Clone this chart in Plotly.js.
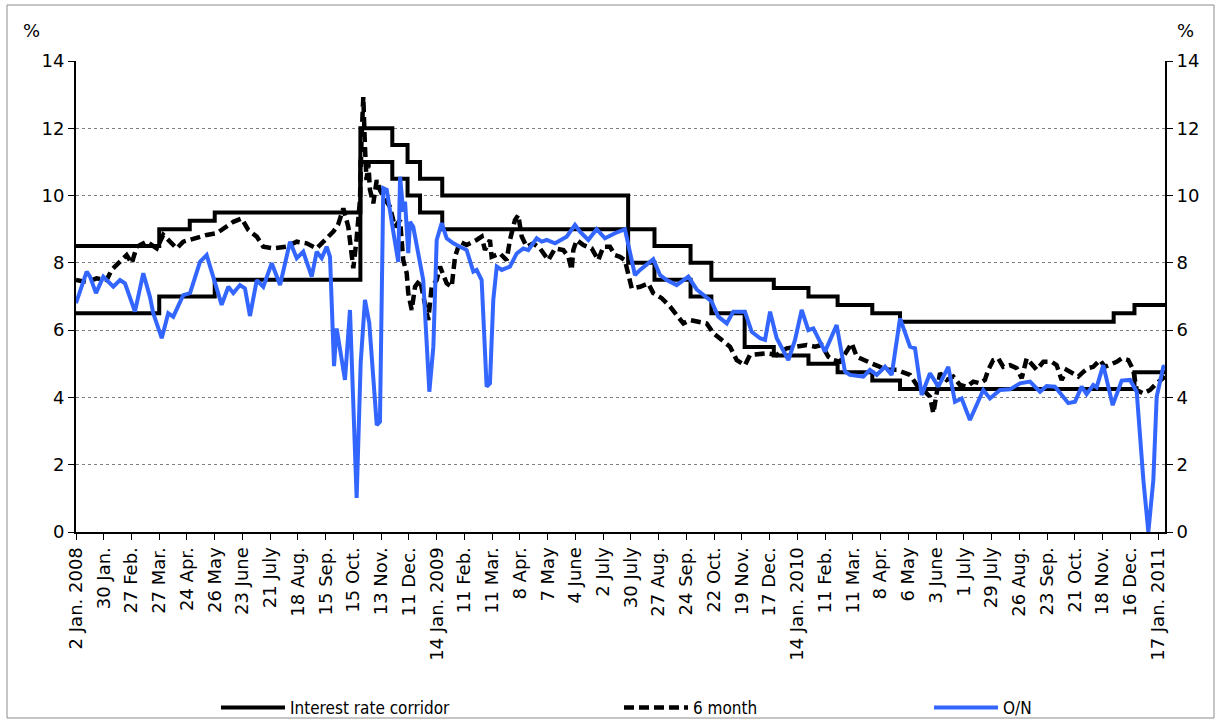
<!DOCTYPE html>
<html><head><meta charset="utf-8">
<script src="https://cdn.plot.ly/plotly-3.0.1.min.js"></script>
<style>body{margin:0;background:#fff}#chart{width:1221px;height:724px}</style>
</head><body><div id="chart"></div>
<script>
// x = business-day number counted from 2 Jan. 2008
const tickDay = [0,20,40,60,80,100,120,140,160,180,200,220,240,260,280,300,320,340,360,380,400,420,440,460,480,500,520,540,560,580,600,620,640,660,680,700,720,740,760,780];
const tickLabels = ['2 Jan. 2008','30 Jan.','27 Feb.','27 Mar.','24 Apr.','26 May','23 June','21 July','18 Aug.','15 Sep.','15 Oct.','13 Nov.','11 Dec.','14 Jan. 2009','11 Feb.','11 Mar.','8 Apr.','7 May','4 June','2 July','30 July','27 Aug.','24 Sep.','22 Oct.','19 Nov.','17 Dec.','14 Jan. 2010','11 Feb.','11 Mar.','8 Apr.','6 May','3 June','1 July','29 July','26 Aug.','23 Sep.','21 Oct.','18 Nov.','16 Dec.','17 Jan. 2011'];

// Interest rate corridor (upper and lower bound), value valid from given day
const corrUpDay = [0,60,82,100,205,228,239,248,264,398,417,443,458,503,528,549,574,594,748,763,785];
const corrUpVal = [8.5,9.0,9.25,9.5,12,11.5,11,10.5,10,9,8.5,8,7.5,7.25,7,6.75,6.5,6.25,6.5,6.75,6.75];
const corrLoDay = [0,60,100,205,228,239,248,264,398,417,443,458,482,503,528,549,574,594,763,785];
const corrLoVal = [6.5,7.0,7.5,11,10.5,10,9.5,9,8,7.5,7,6.5,5.5,5.25,5,4.75,4.5,4.25,4.75,4.75];

// 6 month rate
const m6Day = [0,7.7,14.9,22.1,25.7,30.5,36.5,40.2,43.8,51.0,58.2,62.9,67.8,72.6,77.3,84.6,94.2,101.4,108.6,113.4,119.4,124.2,130.3,135.0,142.2,151.9,159.1,166.3,173.5,180.7,185.5,188.9,192.7,196.3,199.9,202.3,204.7,205.8,207.1,208.3,209.4,210.7,211.9,214.3,216.8,219.1,221.5,226.3,229.9,233.6,235.9,238.4,239.5,242.0,244.4,248.0,250.3,253.9,256.4,260.0,262.4,267.2,270.8,273.2,276.8,281.6,288.8,292.4,294.8,298.4,299.6,305.6,310.4,312.8,316.4,318.8,321.3,324.9,329.6,334.5,340.5,345.3,351.3,354.9,357.3,358.5,360.9,365.7,371.7,376.5,380.1,384.9,388.5,392.1,395.7,398.1,400.6,406.6,412.5,416.1,422.2,428.2,433.0,437.8,442.6,448.6,454.6,459.4,465.4,471.4,476.3,478.6,482.2,485.8,493.1,497.9,505.1,512.3,519.5,526.7,532.7,537.5,542.3,545.9,550.7,559.2,562.8,567.5,573.6,579.6,585.5,591.6,596.3,601.2,606.0,610.8,615.6,618.0,620.4,622.8,627.6,632.4,637.2,642.1,646.8,651.6,655.2,657.6,661.2,664.8,668.4,673.3,678.1,681.7,685.3,688.9,692.5,697.3,703.3,706.9,710.5,714.1,718.9,722.5,726.1,729.7,733.3,738.1,741.7,745.3,750.2,753.8,758.5,762.1,764.6,769.4,774.2,779.0,782.6,785];
const m6Val = [7.49,7.43,7.54,7.49,7.79,7.99,8.23,7.99,8.48,8.63,8.43,8.83,8.63,8.43,8.63,8.73,8.83,8.88,9.07,9.22,9.32,8.98,8.78,8.48,8.43,8.48,8.63,8.58,8.43,8.73,8.93,9.13,9.62,9.07,7.84,8.73,9.87,11.65,12.93,11.45,10.46,10.97,10.17,9.77,10.46,10.17,9.97,9.67,9.07,9.27,8.08,7.69,7.10,6.60,7.29,7.49,6.99,6.30,7.29,7.49,7.89,7.39,7.29,8.18,8.63,8.53,8.68,8.78,8.38,8.68,8.18,8.28,8.08,8.68,9.27,9.42,8.78,8.48,8.58,8.43,8.08,8.43,8.38,8.18,7.79,8.38,8.68,8.53,8.43,8.08,8.48,8.48,8.23,8.18,8.08,7.59,7.24,7.29,7.39,7.10,6.95,6.70,6.45,6.20,6.30,6.25,6.20,5.91,5.71,5.51,5.11,5.06,4.96,5.26,5.31,5.31,5.26,5.46,5.51,5.56,5.51,5.56,5.21,5.11,5.06,5.61,5.21,5.11,5.01,4.91,4.82,4.82,4.76,4.67,4.37,4.22,4.02,3.53,4.12,4.72,4.52,4.62,4.37,4.32,4.47,4.42,4.52,4.82,5.11,5.16,4.91,4.96,4.87,4.57,5.16,5.01,4.82,5.06,5.06,4.96,4.52,4.82,4.72,4.62,4.76,4.87,4.91,5.11,4.91,4.96,5.06,5.16,5.11,4.82,4.22,4.12,4.22,4.42,4.52,4.62];

// O/N rate
const onDay = [0,7.7,10.1,14.4,19.7,26.9,31.7,35.3,42.5,48.5,53.3,55.7,61.8,66.5,70.1,77.3,82.2,89.4,94.2,99.0,105.0,109.8,113.4,118.2,121.8,125.4,130.3,135.0,141.1,147.1,154.3,159.1,163.8,169.9,173.5,177.1,180.7,183.1,186.0,187.9,193.9,197.5,202.3,205.2,208.3,211.4,216.8,219.1,221.5,224.0,227.6,228.7,232.3,233.6,235.9,237.2,239.5,240.8,243.1,248.0,250.3,254.7,257.6,260.0,263.6,267.2,272.0,276.8,281.6,286.4,288.8,292.4,296.0,298.4,300.8,303.3,306.9,312.8,317.7,322.4,326.0,332.1,335.7,339.3,345.3,353.7,359.7,363.3,369.3,375.3,381.3,388.5,395.7,402.9,406.6,416.1,421.0,425.8,433.0,441.4,447.4,458.2,463.0,469.1,473.8,482.2,487.1,493.1,496.7,500.3,505.1,513.5,518.3,523.1,527.9,531.5,539.9,548.3,554.3,557.9,567.5,572.3,577.2,583.2,588.0,594.0,601.2,604.8,609.6,615.6,621.6,628.8,633.6,638.4,644.4,654.0,658.8,666.1,673.3,680.5,687.7,694.9,699.7,705.7,715.3,720.1,724.9,728.5,733.3,735.7,740.5,747.3,753.8,759.8,764.6,769.4,773.0,776.6,779.0,783.8,785];
const onVal = [6.80,7.74,7.59,7.10,7.59,7.29,7.49,7.39,6.55,7.69,6.99,6.50,5.76,6.50,6.40,7.04,7.10,8.03,8.23,7.59,6.75,7.29,7.10,7.34,7.24,6.42,7.49,7.29,7.99,7.34,8.63,8.14,8.33,7.59,8.33,8.14,8.48,8.18,4.93,6.05,4.52,6.60,1.01,5.02,6.90,6.21,3.18,3.28,10.22,10.17,9.07,8.93,8.03,10.56,9.52,9.82,8.29,9.22,9.07,7.89,7.49,4.17,5.51,8.68,9.18,8.73,8.58,8.48,8.38,7.74,7.79,7.49,4.32,4.42,6.90,7.89,7.79,7.89,8.28,8.43,8.38,8.73,8.63,8.68,8.58,8.78,9.13,8.93,8.68,9.00,8.73,8.88,9.00,7.64,7.79,8.11,7.64,7.49,7.34,7.59,7.21,6.85,6.40,6.20,6.55,6.55,5.95,5.76,5.71,6.55,5.76,5.11,5.71,6.60,6.00,6.05,5.36,6.15,4.77,4.67,4.62,4.82,4.67,4.91,4.67,6.35,5.51,5.46,4.07,4.72,4.32,4.91,3.87,3.97,3.33,4.22,3.97,4.22,4.24,4.42,4.47,4.17,4.34,4.32,3.83,3.87,4.32,4.10,4.37,4.30,4.96,3.77,4.50,4.52,4.17,1.55,0.0,1.55,4.02,4.91,4.93];

const tickFont = {family: 'DejaVu Sans, Verdana, sans-serif', size: 18, color: '#000'};
const legFont = {family: 'DejaVu Sans Condensed, DejaVu Sans, sans-serif', size: 17, color: '#000'};

const traces = [
  {x: corrUpDay.concat([null], corrLoDay), y: corrUpVal.concat([null], corrLoVal),
   type: 'scatter', mode: 'lines', name: 'Interest rate corridor', line: {color: '#000', width: 4, shape: 'hv'},
   connectgaps: false, legend: 'legend', hoverinfo: 'skip'},
  {x: m6Day, y: m6Val, type: 'scatter', mode: 'lines', name: '6 month',
   line: {color: '#000', width: 4.5, dash: '10px,5px'}, legend: 'legend2', hoverinfo: 'skip'},
  {x: onDay, y: onVal, type: 'scatter', mode: 'lines', name: 'O/N', yaxis: 'y2',
   line: {color: '#3366FF', width: 4}, legend: 'legend3', hoverinfo: 'skip'}
];

const W = 1089, H = 471, L = 76, T = 61;
const px = v => (v - L) / W;
const py = v => (T + H - v) / H;

const legBase = {orientation: 'h', yanchor: 'middle', xanchor: 'left', y: py(708), font: legFont,
  bgcolor: 'rgba(0,0,0,0)', itemwidth: 64, borderwidth: 0};

const layout = {
  width: 1221, height: 724,
  margin: {l: L, r: 1221 - L - W, t: T, b: 724 - T - H, autoexpand: false},
  paper_bgcolor: '#fff', plot_bgcolor: '#fff',
  showlegend: true,
  xaxis: {range: [0, 785], tickmode: 'array', tickvals: tickDay, ticktext: tickLabels, tickangle: -90,
    ticks: 'outside', ticklen: 6, tickwidth: 1, tickcolor: '#000', showline: true, linecolor: '#000', linewidth: 2,
    showgrid: false, zeroline: false, tickfont: tickFont, automargin: false},
  yaxis: {range: [0, 14], dtick: 2, tick0: 0, ticks: 'outside', ticklen: 6, tickcolor: '#000', showline: true,
    linecolor: '#000', linewidth: 2, showgrid: true, gridcolor: '#7f7f7f', gridwidth: 1, griddash: 'dot',
    zeroline: false, tickfont: tickFont, automargin: false},
  yaxis2: {range: [0, 14], dtick: 2, tick0: 0, overlaying: 'y', side: 'right', ticks: 'outside', ticklen: 6,
    tickcolor: '#000', showline: true, linecolor: '#000', linewidth: 2, showgrid: false, zeroline: false,
    tickfont: tickFont, automargin: false},
  legend: Object.assign({}, legBase, {x: px(216)}),
  legend2: Object.assign({}, legBase, {x: px(619)}),
  legend3: Object.assign({}, legBase, {x: px(929)}),
  annotations: [
    {text: '%', xref: 'paper', yref: 'paper', x: px(31), y: py(30), xanchor: 'center', yanchor: 'middle', showarrow: false, font: tickFont},
    {text: '%', xref: 'paper', yref: 'paper', x: px(1185), y: py(30), xanchor: 'center', yanchor: 'middle', showarrow: false, font: tickFont}
  ],
  shapes: [
    {type: 'rect', xref: 'paper', yref: 'paper', x0: px(7), x1: px(1214), y0: py(718), y1: py(5),
     line: {color: '#8c8c8c', width: 1}, fillcolor: 'rgba(0,0,0,0)', layer: 'below'}
  ]
};

Plotly.newPlot('chart', traces, layout, {staticPlot: true, displayModeBar: false});
</script></body></html>
